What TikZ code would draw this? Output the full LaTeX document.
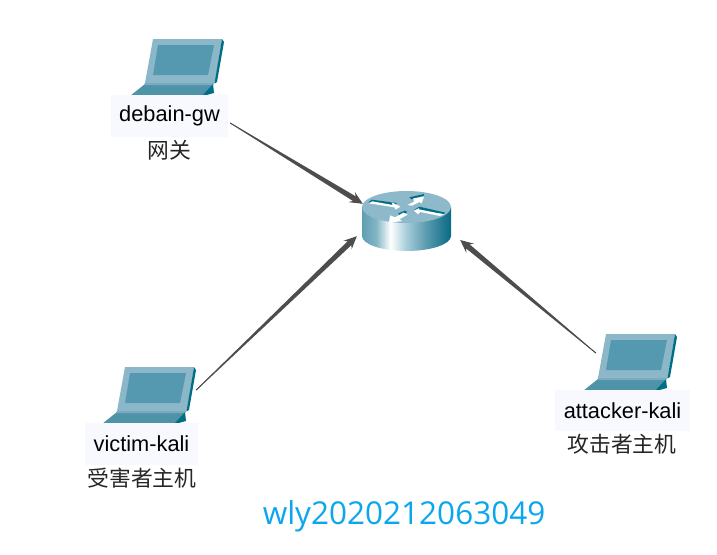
\documentclass[tikz,border=0pt]{standalone}
\usepackage{fontspec}
\setmainfont{Liberation Sans}
\newfontfamily\cjkfont{Noto Sans CJK SC}
\newfontfamily\idfont{Open Sans}
\usetikzlibrary{calc}
\definecolor{lidc}{HTML}{8BB7C9}
\definecolor{screenc}{HTML}{5499B0}
\definecolor{darkc}{HTML}{006F86}
\definecolor{keyc}{HTML}{4F93A9}
\definecolor{linkc}{HTML}{4D4D4D}
\definecolor{labelbg}{HTML}{F8F8FF}
\definecolor{idc}{HTML}{0AA6EE}
\definecolor{rtop}{HTML}{8DB9CA}
\pgfdeclarehorizontalshading{routerbody}{100bp}{
  rgb(0bp)=(0.37,0.62,0.70);
  rgb(25bp)=(0.37,0.62,0.70);
  rgb(33bp)=(0.51,0.71,0.77);
  rgb(41bp)=(1,1,1);
  rgb(50bp)=(0.65,0.80,0.85);
  rgb(62bp)=(0.33,0.59,0.67);
  rgb(75bp)=(0.03,0.42,0.52);
  rgb(100bp)=(0.03,0.42,0.52)}
\tikzset{
  namebox/.style={fill=labelbg,inner sep=0pt,font=\fontsize{21.8}{24}\selectfont,text=black},
  cjklabel/.style={inner sep=0pt,font=\cjkfont\fontsize{21.8}{24}\selectfont,text=black!85},
  hostbox/.style={inner sep=0pt,minimum width=93pt,minimum height=56pt},
  linkline/.style={draw=linkc,line width=0.7pt},
  linkfill/.style={fill=linkc},
  rarrow/.style={fill=white},
  rshadow/.style={fill=darkc},
  laptop/.pic={
    \fill[lidc] (0,0) -- (69,0) -- (62,44) -- (-8,44) -- cycle;
    \fill[darkc] (69,0) -- (71,3) -- (64,43) -- (61.5,44.5) -- cycle;
    \fill[screenc] (5,6) -- (61,6) -- (55,36) -- (0,36) -- cycle;
    \fill[keyc] (-8,45) -- (60,45) -- (50,57) -- (-23,57) -- cycle;
    \fill[lidc!70!keyc] (-8,44) -- (61,44) -- (60,46) -- (-9,46) -- cycle;
    \fill[darkc] (60,45) -- (61,54) -- (50,57) -- (49,57) -- cycle;
  }
}
\newcommand{\taperlink}[2]{%
  \coordinate (s) at #1;
  \coordinate (t) at #2;
  \coordinate (h) at ($(t)!13pt!(s)$);
  \coordinate (n) at ($(t)!10pt!(s)$);
  \fill[linkfill] ($(s)!0.4pt!90:(t)$) -- ($(n)!2.7pt!90:(t)$) -- ($(h)!6pt!90:(t)$) -- (t)
     -- ($(h)!6pt!-90:(t)$) -- ($(n)!2.7pt!-90:(t)$) -- ($(s)!0.4pt!-90:(t)$) -- cycle;
  \draw[linkline] #1 -- ($(t)!6pt!(s)$);
}
\begin{document}
\begin{tikzpicture}[x=1pt,y=-1pt]
\useasboundingbox (0,0) rectangle (717,554);
% hosts
\node[hostbox] (gwpc) at (167.5,67) {};
\node[hostbox] (vpc) at (139.5,395) {};
\node[hostbox] (apc) at (620.5,362) {};
\pic at ([shift={(-14.5,-28)}]gwpc) {laptop};
\pic at ([shift={(-14.5,-28)}]vpc) {laptop};
\pic at ([shift={(-14.5,-28)}]apc) {laptop};
% labels
\node[namebox,minimum width=117pt,minimum height=42pt] (gw) at (169.5,116) {debain-gw};
\node[namebox,minimum width=113pt,minimum height=42pt] (victim) at (141.5,444) {victim-kali};
\node[namebox,minimum width=135pt,minimum height=41pt] (attacker) at (622.5,410.5) {attacker-kali};
\node[cjklabel] (gwc) at (169,150) {网关};
\node[cjklabel] (victimc) at (142,478) {受害者主机};
\node[cjklabel] (attackerc) at (622,444) {攻击者主机};
% router
\node[inner sep=0pt,minimum width=89pt,minimum height=60pt] (router) at (406.5,221) {};
\shade[shading=routerbody] (362,207) -- (362,236) arc[start angle=180,end angle=0,x radius=44.5,y radius=15] -- (451,207) -- cycle;
\fill[rtop] (406.5,207) ellipse[x radius=44.5,y radius=16];
\begin{scope}[shift={(340,170)},x=0.3333pt,y=-0.3333pt]
  % arrow to centre, from upper left
  \fill[rshadow] (85,98) -- (95,89) -- (170,99) -- (168,106) -- cycle;
  \fill[rarrow] (86,100) -- (97,94) -- (158,105) -- (155,97) -- (181,110) -- (167,119) -- (163,112) -- cycle;
  % arrow outward, upper right
  \fill[rshadow] (208,82) -- (252,72) -- (252,77) -- (215,88) -- cycle;
  \fill[rarrow] (202,105) -- (222,95) -- (220,85) -- (252,80) -- (245,100) -- (238,96) -- (216,107) -- cycle;
  % arrow to centre, from right
  \fill[rshadow] (222,120) -- (238,110) -- (316,128) -- (312,132) -- cycle;
  \fill[rarrow] (222,122) -- (238,114) -- (236,118) -- (312,133) -- (300,138) -- (240,126) -- (234,133) -- cycle;
  % arrow outward, lower left
  \fill[rshadow] (175,130) -- (195,122) -- (202,126) -- (178,138) -- cycle;
  \fill[rarrow] (147,158) -- (150,136) -- (165,142) -- (190,128) -- (203,134) -- (178,148) -- (187,153) -- cycle;
\end{scope}
% connectors
\taperlink{([shift={(2,7)}]gw.east)}{([shift={(1,13)}]router.north west)}
\taperlink{([shift={(10,-5)}]vpc.east)}{([shift={(-5,-15)}]router.south west)}
\taperlink{([shift={(22,-9)}]apc.west)}{([shift={(9,19)}]router.east)}
% watermark
\node[inner sep=0pt,text=idc,font=\idfont\fontsize{31.5}{34}\selectfont] (wm) at (404,516.5) {wly2020212063049};
\end{tikzpicture}
\end{document}
